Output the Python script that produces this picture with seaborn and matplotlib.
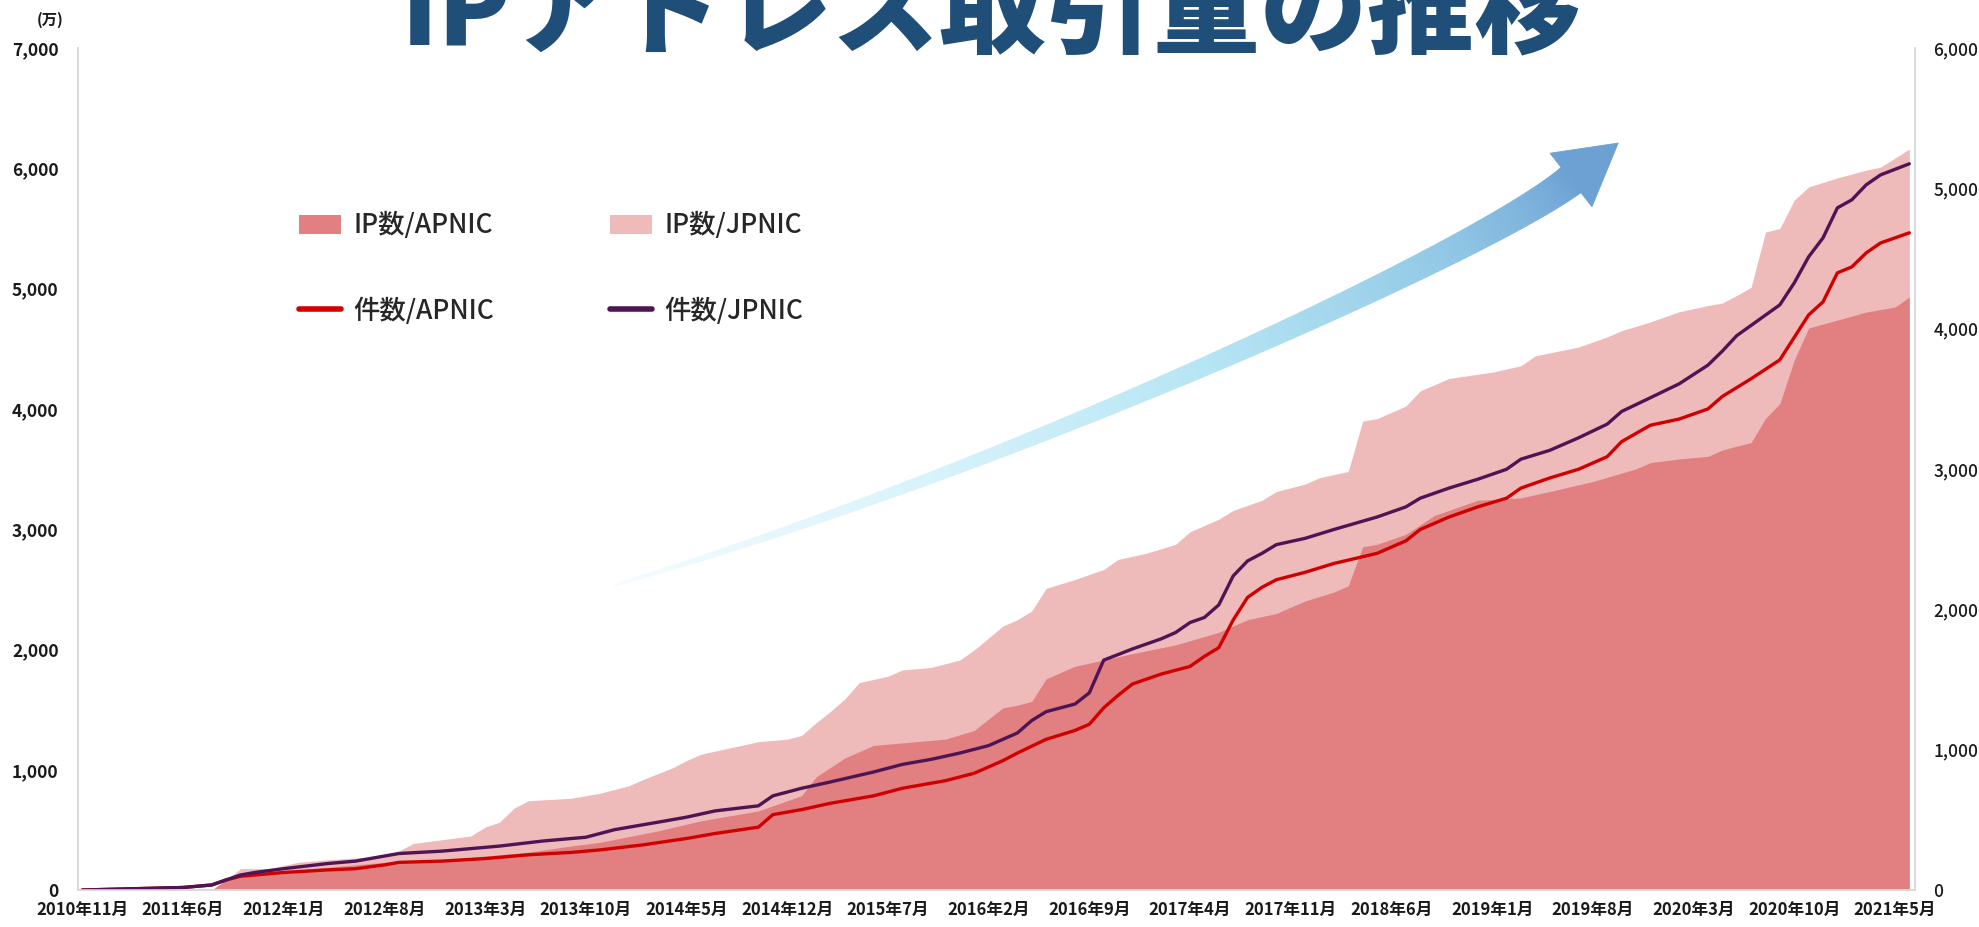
import numpy as np
import matplotlib
matplotlib.use("Agg")
import matplotlib.pyplot as plt
from matplotlib.colors import LinearSegmentedColormap
from matplotlib.patches import Patch, Polygon
from matplotlib.lines import Line2D
import seaborn as sns

sns.set_theme(style="white")
plt.rcParams["font.family"] = ["Noto Sans CJK JP", "DejaVu Sans"]

# x軸: 2010年11月 = 0 からの月数
tick_labels = ["2010年11月", "2011年6月", "2012年1月", "2012年8月", "2013年3月",
               "2013年10月", "2014年5月", "2014年12月", "2015年7月", "2016年2月",
               "2016年9月", "2017年4月", "2017年11月", "2018年6月", "2019年1月",
               "2019年8月", "2020年3月", "2020年10月", "2021年5月"]

# IP数 (万) - 積み上げ: APNIC の上に JPNIC
ip_apnic_m = [0, 9, 10, 11, 14, 18, 21, 24, 28, 31,
              34, 36, 40, 43, 47, 50, 51, 53, 55, 57,
              60, 62, 64, 65, 66, 67, 69, 71, 73, 76,
              79, 81, 83, 85, 87, 88, 89, 90, 92, 94,
              97, 100, 102, 105, 108, 109, 111, 113, 114, 115,
              116, 117, 118, 119, 120, 122, 124, 126, 127]
ip_apnic = [0, 0, 84, 125, 157, 199, 230, 240, 282, 314,
            366, 397, 491, 575, 658, 784, 940, 1097, 1202, 1223,
            1254, 1327, 1515, 1536, 1568, 1756, 1860, 1912, 1965, 2038,
            2142, 2247, 2299, 2403, 2477, 2529, 2853, 2874, 2957, 3114,
            3240, 3260, 3313, 3396, 3501, 3553, 3584, 3605, 3658, 3690,
            3720, 3920, 4044, 4405, 4672, 4738, 4805, 4846, 4930]

ip_total_m = [0, 9, 10, 11, 13, 15, 17, 21, 22, 23,
              25, 27, 28, 29, 30, 31, 34, 36, 38, 39,
              41, 42, 43, 45, 47, 49, 50, 51, 52, 53,
              54, 56, 57, 59, 61, 62, 64, 65, 66, 67,
              69, 71, 72, 74, 76, 77, 79, 80, 82, 83,
              85, 86, 88, 89, 90, 92, 93, 95, 98, 100,
              101, 104, 106, 107, 109, 111, 113, 114, 115, 116,
              117, 118, 119, 120, 122, 124, 125, 127]
ip_total = [0, 0, 84, 178, 178, 230, 251, 282, 324, 387,
            418, 449, 523, 564, 679, 742, 763, 805, 867, 920,
            1014, 1076, 1129, 1181, 1233, 1254, 1285, 1390, 1484, 1588,
            1724, 1777, 1829, 1850, 1912, 1996, 2195, 2247, 2320, 2508,
            2581, 2665, 2748, 2801, 2874, 2978, 3083, 3156, 3240, 3313,
            3375, 3428, 3480, 3898, 3919, 4023, 4149, 4253, 4305, 4358,
            4441, 4514, 4598, 4650, 4723, 4807, 4859, 4880, 4943, 5010,
            5470, 5500, 5735, 5845, 5920, 5985, 6010, 6160]

# 件数 (累計) - 積み上げ
cnt_apnic_m = [0, 7, 9, 10, 11, 14, 17, 19, 21, 22,
               25, 28, 31, 34, 36, 39, 42, 44, 47, 48,
               50, 52, 55, 57, 60, 62, 64, 65, 67, 69,
               70, 71, 72, 73, 75, 77, 78, 79, 80, 81,
               82, 83, 85, 87, 90, 92, 93, 95, 97, 99,
               100, 102, 104, 106, 107, 109, 111, 113, 114, 116,
               118, 120, 121, 122, 123, 124, 125, 127]
cnt_apnic = [0, 18, 36, 72, 98, 125, 143, 152, 179, 197,
             206, 224, 251, 268, 286, 322, 367, 403, 448, 537,
             573, 618, 671, 725, 779, 832, 922, 976, 1074, 1137,
             1181, 1298, 1387, 1468, 1539, 1593, 1665, 1727, 1924, 2085,
             2157, 2211, 2264, 2327, 2399, 2488, 2569, 2658, 2730, 2792,
             2864, 2936, 2998, 3088, 3195, 3312, 3356, 3428, 3517, 3643,
             3778, 4098, 4191, 4398, 4440, 4540, 4611, 4683]

cnt_total_m = [0, 7, 9, 10, 11, 12, 14, 17, 19, 21,
               22, 25, 28, 29, 32, 35, 37, 40, 42, 44,
               47, 48, 50, 52, 55, 57, 59, 61, 63, 64,
               65, 66, 67, 68, 69, 70, 71, 73, 75, 76,
               77, 78, 79, 80, 81, 82, 83, 85, 87, 90,
               92, 93, 95, 97, 99, 100, 102, 104, 106, 107,
               109, 111, 113, 114, 115, 118, 119, 120, 121, 122,
               123, 124, 125, 127]
cnt_total = [0, 18, 36, 72, 107, 125, 152, 188, 206, 242,
             260, 277, 304, 313, 349, 376, 430, 483, 519, 564,
             600, 671, 725, 770, 841, 895, 931, 976, 1029, 1074,
             1119, 1208, 1271, 1298, 1325, 1405, 1638, 1718, 1790, 1835,
             1906, 1942, 2032, 2238, 2345, 2399, 2461, 2506, 2569, 2658,
             2730, 2792, 2864, 2927, 2998, 3070, 3133, 3222, 3320, 3410,
             3508, 3607, 3740, 3840, 3950, 4170, 4326, 4512, 4647, 4861,
             4918, 5025, 5096, 5175]

PINK_DARK = "#e27f80"
PINK_LIGHT = "#efbaba"
RED = "#d10000"
PURPLE = "#4e1454"
TITLE_BLUE = "#1f4e79"
SPINE = "#d9d9d9"
TXT = "#1a1a1a"

fig = plt.figure(figsize=(19.79, 9.27), dpi=100)
ax = fig.add_axes([0.0394, 0.0399, 0.9283, 0.9083])
ax2 = ax.twinx()

# areas (left axis)
ax.fill_between(ip_total_m, ip_total, color=PINK_LIGHT, lw=0)
ax.fill_between(ip_apnic_m, ip_apnic, color=PINK_DARK, lw=0)

# lines (right axis)
sns.lineplot(x=cnt_apnic_m, y=cnt_apnic, ax=ax2, color=RED, lw=2.4)
sns.lineplot(x=cnt_total_m, y=cnt_total, ax=ax2, color=PURPLE, lw=2.4)

ax.set_xlim(-0.3, 127.4)
ax.set_ylim(0, 7000)
ax2.set_ylim(0, 6000)
ax2.set_xlabel("")
ax2.set_ylabel("")

ax.set_xticks(range(0, 127, 7))
ax.set_xticklabels(tick_labels, fontsize=12, fontweight="bold", color=TXT)
ax.set_yticks(range(0, 7001, 1000))
ax.set_yticklabels([f"{v:,}" for v in range(0, 7001, 1000)],
                   fontsize=12.5, fontweight="bold", color=TXT)
ax2.set_yticks(range(0, 6001, 1000))
ax2.set_yticklabels([f"{v:,}" for v in range(0, 6001, 1000)],
                    fontsize=12.5, fontweight="medium", color=TXT)

ax.tick_params(axis="x", length=0, pad=8)
ax.tick_params(axis="y", length=0, pad=14)
ax2.tick_params(axis="y", length=0, pad=13)

for a in (ax, ax2):
    a.spines["top"].set_visible(False)
    for s in ("left", "right", "bottom"):
        a.spines[s].set_color(SPINE)
        a.spines[s].set_linewidth(1.2)

fig.text(0.0253, 0.979, "(万)", fontsize=11, fontweight="bold",
         color=TXT, ha="center", va="center")

# title, cut at the top edge like the original
fig.text(0.501, 0.951, "IPアドレス取引量の推移", fontsize=77, fontweight="heavy",
         color=TITLE_BLUE, ha="center", va="baseline")

# legend
handles = [Patch(facecolor=PINK_DARK, edgecolor="none"),
           Line2D([], [], color=RED, lw=4),
           Patch(facecolor=PINK_LIGHT, edgecolor="none"),
           Line2D([], [], color=PURPLE, lw=4)]
labels = ["IP数/APNIC", "件数/APNIC", "IP数/JPNIC", "件数/JPNIC"]
fig.legend(handles, labels, loc="upper left", bbox_to_anchor=(0.1511, 0.771),
           ncol=2, frameon=False, borderpad=0, borderaxespad=0,
           prop={"size": 19, "weight": "medium"},
           handlelength=1.6, handleheight=0.75, handletextpad=0.45,
           columnspacing=4.4, labelspacing=2.2)

# gradient arrow drawn in pixel coordinates
ov = fig.add_axes([0, 0, 1, 1])
ov.set_xlim(0, 1979)
ov.set_ylim(927, 0)
ov.axis("off")
ov.patch.set_alpha(0)

P0 = np.array([615.0, 585.0])
C1 = np.array([1000.0, 472.0])
C2 = np.array([1480.0, 252.0])
P3 = np.array([1571.0, 180.0])
cmap = LinearSegmentedColormap.from_list(
    "arr", ["#f4fcfe", "#d9f3fb", "#b6e5f4", "#93c9e6", "#6da1d4"])

def bez(t):
    return ((1 - t) ** 3 * P0 + 3 * (1 - t) ** 2 * t * C1
            + 3 * (1 - t) * t ** 2 * C2 + t ** 3 * P3)

ts = np.linspace(0, 1, 200)
pts = np.array([bez(t) for t in ts])
d = np.gradient(pts, axis=0)
d /= np.linalg.norm(d, axis=1)[:, None]
nrm = np.column_stack([-d[:, 1], d[:, 0]])
w = 2 + 30 * ts ** 0.9
for i in range(len(ts) - 1):
    a0 = pts[i] + nrm[i] * w[i] / 2
    b0 = pts[i] - nrm[i] * w[i] / 2
    a1 = pts[i + 1] + nrm[i + 1] * w[i + 1] / 2
    b1 = pts[i + 1] - nrm[i + 1] * w[i + 1] / 2
    ov.add_patch(Polygon([a0, a1, b1, b0], closed=True,
                         facecolor=cmap(ts[i]), edgecolor=cmap(ts[i]), lw=0.6))

tip_dir = d[-1]
tip_n = nrm[-1]
tip = P3 + tip_dir * 60
ov.add_patch(Polygon([P3 + tip_n * 34, tip, P3 - tip_n * 34], closed=True,
                     facecolor="#6da1d4", edgecolor="#6da1d4", lw=0.6))

fig.savefig("out.png", dpi=100)
